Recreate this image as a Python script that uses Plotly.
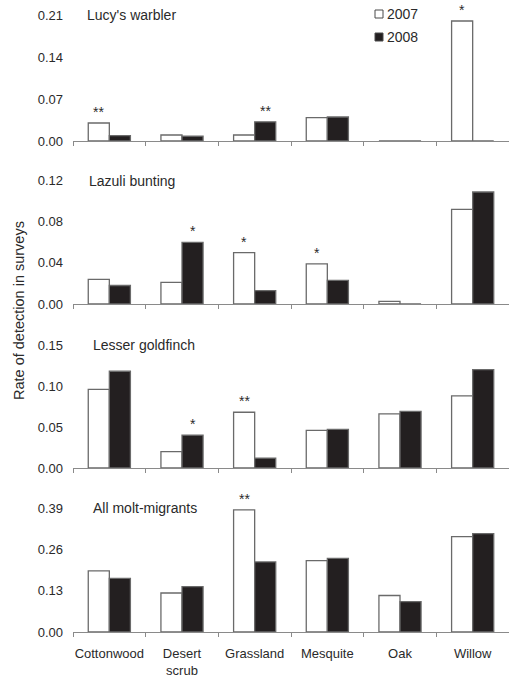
import plotly.graph_objects as go

habitats = ["Cottonwood", "Desert<br>scrub", "Grassland", "Mesquite", "Oak", "Willow"]
species = ["Lucy's warbler", "Lazuli bunting", "Lesser goldfinch", "All molt-migrants"]
years = ["2007", "2008"]

lucy_2007 = [0.030, 0.010, 0.010, 0.039, 0.0, 0.200]
lucy_2008 = [0.009, 0.008, 0.032, 0.040, 0.0, 0.0]
lazuli_2007 = [0.024, 0.021, 0.050, 0.039, 0.0025, 0.092]
lazuli_2008 = [0.018, 0.060, 0.013, 0.023, 0.0, 0.109]
goldfinch_2007 = [0.096, 0.020, 0.068, 0.046, 0.066, 0.088]
goldfinch_2008 = [0.118, 0.040, 0.012, 0.047, 0.069, 0.120]
allmm_2007 = [0.193, 0.123, 0.385, 0.225, 0.115, 0.301]
allmm_2008 = [0.169, 0.143, 0.221, 0.232, 0.096, 0.310]

# significance marks: (panel, habitat index, year, label)
sig_marks = [
    (0, 0, "2007", "**"), (0, 2, "2008", "**"), (0, 5, "2007", "*"),
    (1, 1, "2008", "*"), (1, 2, "2007", "*"), (1, 3, "2007", "*"),
    (2, 1, "2008", "*"), (2, 2, "2007", "**"),
    (3, 2, "2007", "**"),
]

tickvals = [
    [0, 0.07, 0.14, 0.21],
    [0, 0.04, 0.08, 0.12],
    [0, 0.05, 0.10, 0.15],
    [0, 0.13, 0.26, 0.39],
]

series = [
    (lucy_2007, lucy_2008),
    (lazuli_2007, lazuli_2008),
    (goldfinch_2007, goldfinch_2008),
    (allmm_2007, allmm_2008),
]

# layout in page pixels (body margin is removed below)
W, H = 509, 679
ml, mr, mt = 73, 0, 15
bottom_px = 632
mb = H - bottom_px
pw = W - ml - mr
ph = H - mt - mb
panel_px = [(15, 141), (180.7, 304), (345, 468), (508.3, 632)]

def px_x(p):
    return (p - ml) / pw

def px_y(p):
    return (bottom_px - p) / ph

domains = [[px_y(b), px_y(t)] for t, b in panel_px]

TXT = "#2a2a2a"
EDGE = "#6a6a6a"
FILLS = ["white", "#231f20"]
FONT = "Liberation Sans, Arial, sans-serif"

fig = go.Figure()
for i, (s07, s08) in enumerate(series):
    xa = "x" if i == 0 else f"x{i+1}"
    ya = "y" if i == 0 else f"y{i+1}"
    for yr, vals, fill in zip(years, (s07, s08), FILLS):
        fig.add_trace(go.Bar(
            x=habitats, y=vals, name=yr, xaxis=xa, yaxis=ya,
            marker=dict(color=fill, line=dict(color=EDGE, width=1.3)),
            showlegend=False,
        ))

layout = dict(
    width=W, height=H,
    margin=dict(l=ml, r=mr, t=mt, b=mb, autoexpand=False),
    paper_bgcolor="white", plot_bgcolor="white",
    barmode="group", bargap=0.42, bargroupgap=0,
    font=dict(family=FONT, color=TXT, size=13),
    showlegend=False,
)
for i in range(4):
    xk = "xaxis" if i == 0 else f"xaxis{i+1}"
    yk = "yaxis" if i == 0 else f"yaxis{i+1}"
    ya = "y" if i == 0 else f"y{i+1}"
    layout[xk] = dict(
        anchor=ya, domain=[0, 1], type="category", automargin=False,
        showline=True, linecolor="#8a8a8a", linewidth=1,
        ticks="outside", tickson="boundaries", ticklen=4, tickcolor="#8a8a8a",
        showticklabels=(i == 3), showgrid=False, zeroline=False, tickangle=0,
        tickfont=dict(size=13, color=TXT), ticklabelstandoff=9,
        ticklabeloverflow="allow",
    )
    if i > 0:
        layout[xk]["matches"] = "x"
    top = tickvals[i][-1]
    layout[yk] = dict(
        domain=domains[i], range=[0, top], anchor="x" if i == 0 else f"x{i+1}",
        tickvals=tickvals[i], tickformat=".2f", showgrid=False, zeroline=False,
        showline=False, ticks="", ticklabelstandoff=9, automargin=False,
        tickfont=dict(size=13, color=TXT), ticklabeloverflow="allow",
    )
fig.update_layout(**layout)

annotations = []
title_x = [86, 88, 92, 92]
for i, name in enumerate(species):
    annotations.append(dict(
        text=name, xref="paper", yref="paper", x=px_x(title_x[i]),
        y=domains[i][1], xanchor="left", yanchor="middle", showarrow=False,
        font=dict(size=14, color=TXT), borderpad=0,
    ))
for panel, hi, year, label in sig_marks:
    vals = series[panel][years.index(year)]
    xa = "x" if panel == 0 else f"x{panel+1}"
    ya = "y" if panel == 0 else f"y{panel+1}"
    annotations.append(dict(
        text=label, x=habitats[hi], y=vals[hi], xref=xa, yref=ya,
        xshift=-10.5 if year == "2007" else 10.5, yshift=1,
        xanchor="center", yanchor="bottom", showarrow=False,
        font=dict(size=14, color=TXT),
    ))
annotations.append(dict(
    text="Rate of detection in surveys", xref="paper", yref="paper",
    x=px_x(19), y=px_y(311), textangle=-90,
    xanchor="center", yanchor="middle", showarrow=False,
    font=dict(size=14.5, color=TXT),
))

# manual legend (small square swatches)
shapes = []
leg_rows = [14, 37]
for yr, fill, row in zip(years, FILLS, leg_rows):
    shapes.append(dict(
        type="rect", xref="paper", yref="paper",
        x0=px_x(375), x1=px_x(383), y0=px_y(row + 4), y1=px_y(row - 4),
        fillcolor=fill, line=dict(color="#4a4a4a", width=1),
    ))
    annotations.append(dict(
        text=yr, xref="paper", yref="paper", x=px_x(386), y=px_y(row),
        xanchor="left", yanchor="middle", showarrow=False,
        font=dict(size=14, color=TXT), borderpad=0,
    ))
fig.update_layout(annotations=annotations, shapes=shapes)

fig.write_html(
    "out.html",
    config={"displayModeBar": False},
    post_script="document.body.style.margin='0px';document.body.style.overflow='hidden';",
)
